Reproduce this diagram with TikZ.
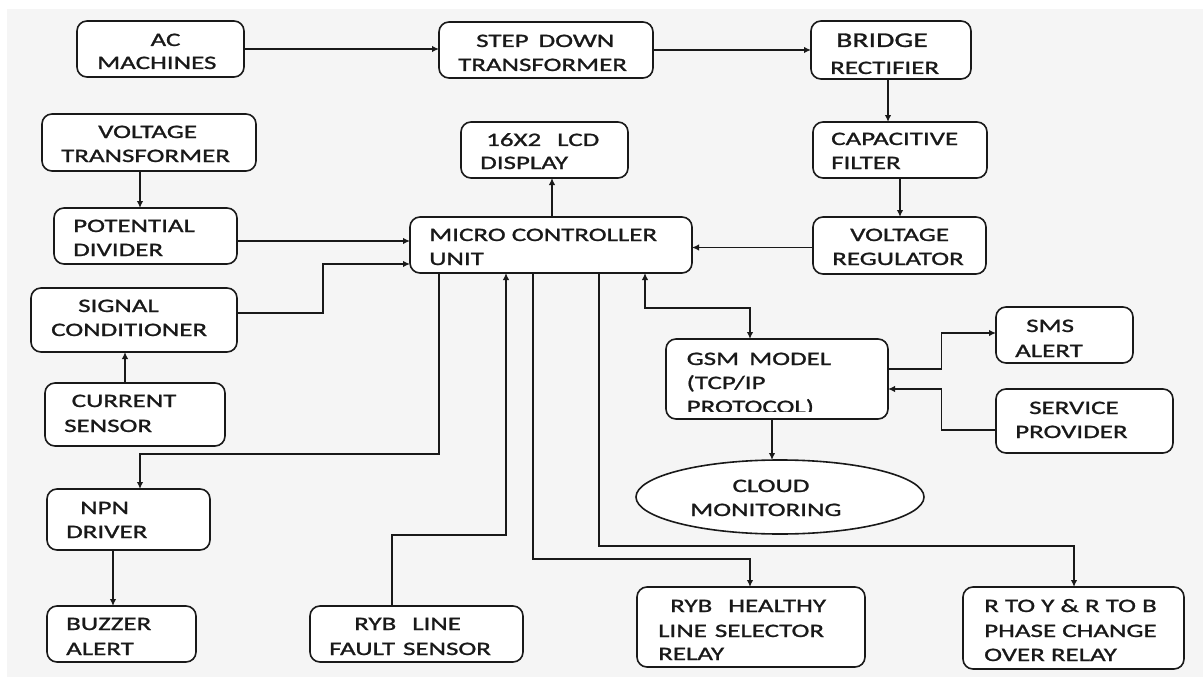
\documentclass[tikz,border=0pt]{standalone}
\usepackage{fontspec}
\setmainfont[FakeStretch=1.42,FakeBold=1.2]{Carlito}
\usetikzlibrary{arrows.meta,shapes.geometric}
\definecolor{bggray}{RGB}{245,245,245}
\definecolor{ink}{RGB}{25,25,25}
\tikzset{
  box/.style={draw=ink, fill=white, line width=1.6pt, rounded corners=10pt, inner sep=0pt, outer sep=0pt},
  oval/.style={draw=ink, fill=white, line width=1.6pt, ellipse, inner sep=0pt, outer sep=0pt},
  txt/.style={anchor=base west, inner sep=0pt, text=ink, font=\fontsize{19}{24}\selectfont},
  ctxt/.style={txt, anchor=base},
  arr/.style={draw=ink, line width=1.6pt, -{Latex[length=7pt,width=6.5pt]}},
  darr/.style={draw=ink, line width=1.6pt, {Latex[length=7pt,width=6.5pt]}-{Latex[length=7pt,width=6.5pt]}}
}
\begin{document}
\begin{tikzpicture}[x=1pt,y=-1pt]
\useasboundingbox (0,0) rectangle (1203,677);
\fill[white] (0,0) rectangle (1203,677);
\fill[bggray] (7,9) rectangle (1203,677);

% boxes
\node[box, minimum width=167pt, minimum height=56pt] (ac) at (160.5,49) {};
\node[box, minimum width=214pt, minimum height=56pt] (step) at (546,50) {};
\node[box, minimum width=160pt, minimum height=58pt] (bridge) at (891,50) {};
\node[box, minimum width=214pt, minimum height=57pt] (vt) at (149,142.5) {};
\node[box, minimum width=167pt, minimum height=56pt] (lcd) at (544.5,150) {};
\node[box, minimum width=174pt, minimum height=56pt] (cf) at (900,150) {};
\node[box, minimum width=183pt, minimum height=56pt] (pd) at (145.5,236) {};
\node[box, minimum width=282pt, minimum height=56pt] (mcu) at (551,245) {};
\node[box, minimum width=173pt, minimum height=57pt] (vr) at (899.5,245.5) {};
\node[box, minimum width=206pt, minimum height=64pt] (sc) at (134,320) {};
\node[box, minimum width=180pt, minimum height=63pt] (cs) at (135,414.5) {};
\node[box, minimum width=137pt, minimum height=56pt] (sms) at (1064.5,335) {};
\node[box, minimum width=222pt, minimum height=80pt] (gsm) at (777,379) {};
\node[box, minimum width=177pt, minimum height=64pt] (sp) at (1084.5,421) {};
\node[oval, minimum width=288pt, minimum height=74pt] (cloud) at (780,497) {};
\node[box, minimum width=163pt, minimum height=61pt] (npn) at (128.5,519.5) {};
\node[box, minimum width=149pt, minimum height=56pt] (buzzer) at (121.5,634) {};
\node[box, minimum width=213pt, minimum height=56pt] (fault) at (416.5,634) {};
\node[box, minimum width=228pt, minimum height=80pt] (healthy) at (751,627) {};
\node[box, minimum width=221pt, minimum height=82pt] (phase) at (1073.5,628) {};

% texts
\node[ctxt] (ac-t1) at (165.5,46) {AC};
\node[txt] (ac-t2) at (97,69) {MACHINES};
\node[txt] (step-t1) at (476,47) {STEP\hspace{10pt}DOWN};
\node[txt] (step-t2) at (458,71) {TRANSFORMER};
\node[txt, font=\fontsize{21}{24}\selectfont] (bridge-t1) at (836,47) {BRIDGE};
\node[txt] (bridge-t2) at (830,74) {RECTIFIER};
\node[txt] (vt-t1) at (98,138) {VOLTAGE};
\node[txt] (vt-t2) at (61,162) {TRANSFORMER};
\node[txt] (lcd-t1) at (486,146) {16X2\hspace{16pt}LCD};
\node[txt] (lcd-t2) at (480,169) {DISPLAY};
\node[txt] (cf-t1) at (831,145) {CAPACITIVE};
\node[txt] (cf-t2) at (831,169) {FILTER};
\node[txt] (pd-t1) at (73,232) {POTENTIAL};
\node[txt] (pd-t2) at (73,256) {DIVIDER};
\node[txt] (mcu-t1) at (429,241) {MICRO CONTROLLER};
\node[txt] (mcu-t2) at (429,265) {UNIT};
\node[txt] (vr-t1) at (850,241) {VOLTAGE};
\node[txt] (vr-t2) at (832,265) {REGULATOR};
\node[txt] (sc-t1) at (78,312) {SIGNAL};
\node[txt] (sc-t2) at (51,336) {CONDITIONER};
\node[txt] (cs-t1) at (71.5,407) {CURRENT};
\node[txt] (cs-t2) at (64,432) {SENSOR};
\node[txt] (sms-t1) at (1026,332) {SMS};
\node[txt] (sms-t2) at (1015,357) {ALERT};
\node[txt] (gsm-t1) at (686.5,365) {GSM\hspace{10pt}MODEL};
\node[txt] (gsm-t2) at (686.5,389) {(TCP/IP};
\begin{scope}
\clip (660,395) rectangle (890,411.5);
\node[txt] (gsm-t3) at (686.5,413) {PROTOCOL)};
\end{scope}
\node[txt] (sp-t1) at (1029,414) {SERVICE};
\node[txt] (sp-t2) at (1015,438) {PROVIDER};
\node[ctxt] (cloud-t1) at (771,492) {CLOUD};
\node[txt] (cloud-t2) at (690,516) {MONITORING};
\node[txt] (npn-t1) at (80,514) {NPN};
\node[txt] (npn-t2) at (66,538) {DRIVER};
\node[txt] (buzzer-t1) at (66,630) {BUZZER};
\node[txt] (buzzer-t2) at (66,655) {ALERT};
\node[txt] (fault-t1) at (354,630) {RYB\hspace{16pt}LINE};
\node[txt] (fault-t2) at (329,655) {FAULT\hspace{8pt}SENSOR};
\node[txt] (healthy-t1) at (670,612) {RYB\hspace{16pt}HEALTHY};
\node[txt] (healthy-t2) at (658,637) {LINE\hspace{8pt}SELECTOR};
\node[txt] (healthy-t3) at (658,660) {RELAY};
\node[txt] (phase-t1) at (984,612) {R TO Y \& R TO B};
\node[txt] (phase-t2) at (984,637) {PHASE CHANGE};
\node[txt] (phase-t3) at (984,661) {OVER RELAY};

% connectors
\draw[arr] (ac.east) -- (ac.east -| step.west);
\draw[arr] (step.east) -- (step.east -| bridge.west);
\draw[arr] ([xshift=-3pt]bridge.south) -- ([xshift=-3pt]bridge.south |- cf.north);
\draw[arr] (cf.south) -- (cf.south |- vr.north);
\draw[arr] ([yshift=-2pt]vr.west) -- ([yshift=-2pt]vr.west -| mcu.east);
\draw[arr] ([xshift=-9pt]vt.south) -- ([xshift=-9pt]vt.south |- pd.north);
\draw[arr] ([yshift=-5pt]pd.east) -- ([yshift=-5pt]pd.east -| mcu.west);
\draw[arr] ([yshift=7pt]sc.east) -- ++(86,0) |- ([yshift=-19pt]mcu.west);
\draw[arr] ([xshift=1pt]mcu.north) -- ([xshift=1pt]mcu.north |- lcd.south);
\draw[arr] ([xshift=-10pt]cs.north) -- ([xshift=-10pt]cs.north |- sc.south);
\draw[arr] ([xshift=29pt]mcu.south west) -- ++(0,181) -| ([xshift=11.5pt]npn.north);
\draw[arr] ([xshift=-15.5pt]npn.south) -- ([xshift=-15.5pt]npn.south |- buzzer.north);
\draw[arr] ([xshift=-24.5pt]fault.north) -- ++(0,-71) -| ([xshift=96pt]mcu.south west);
\draw[arr] ([xshift=123pt]mcu.south west) -- ++(0,286) -| ([xshift=-1pt]healthy.north);
\draw[arr] ([xshift=189pt]mcu.south west) -- ++(0,273) -| ([xshift=0.5pt]phase.north);
\draw[darr] ([xshift=235pt]mcu.south west) -- ++(0,35) -| ([xshift=-27pt]gsm.north);
\draw[arr] ([yshift=10pt]gsm.east) -- ++(53.5,0) |- ([yshift=2pt]sms.west);
\draw[arr] ([yshift=-9pt]sp.west) -- ++(-54.5,0) |- ([yshift=-10pt]gsm.east);
\draw[arr] ([xshift=-5pt]gsm.south) -- ([xshift=-5pt]gsm.south |- cloud.north);
\end{tikzpicture}
\end{document}
